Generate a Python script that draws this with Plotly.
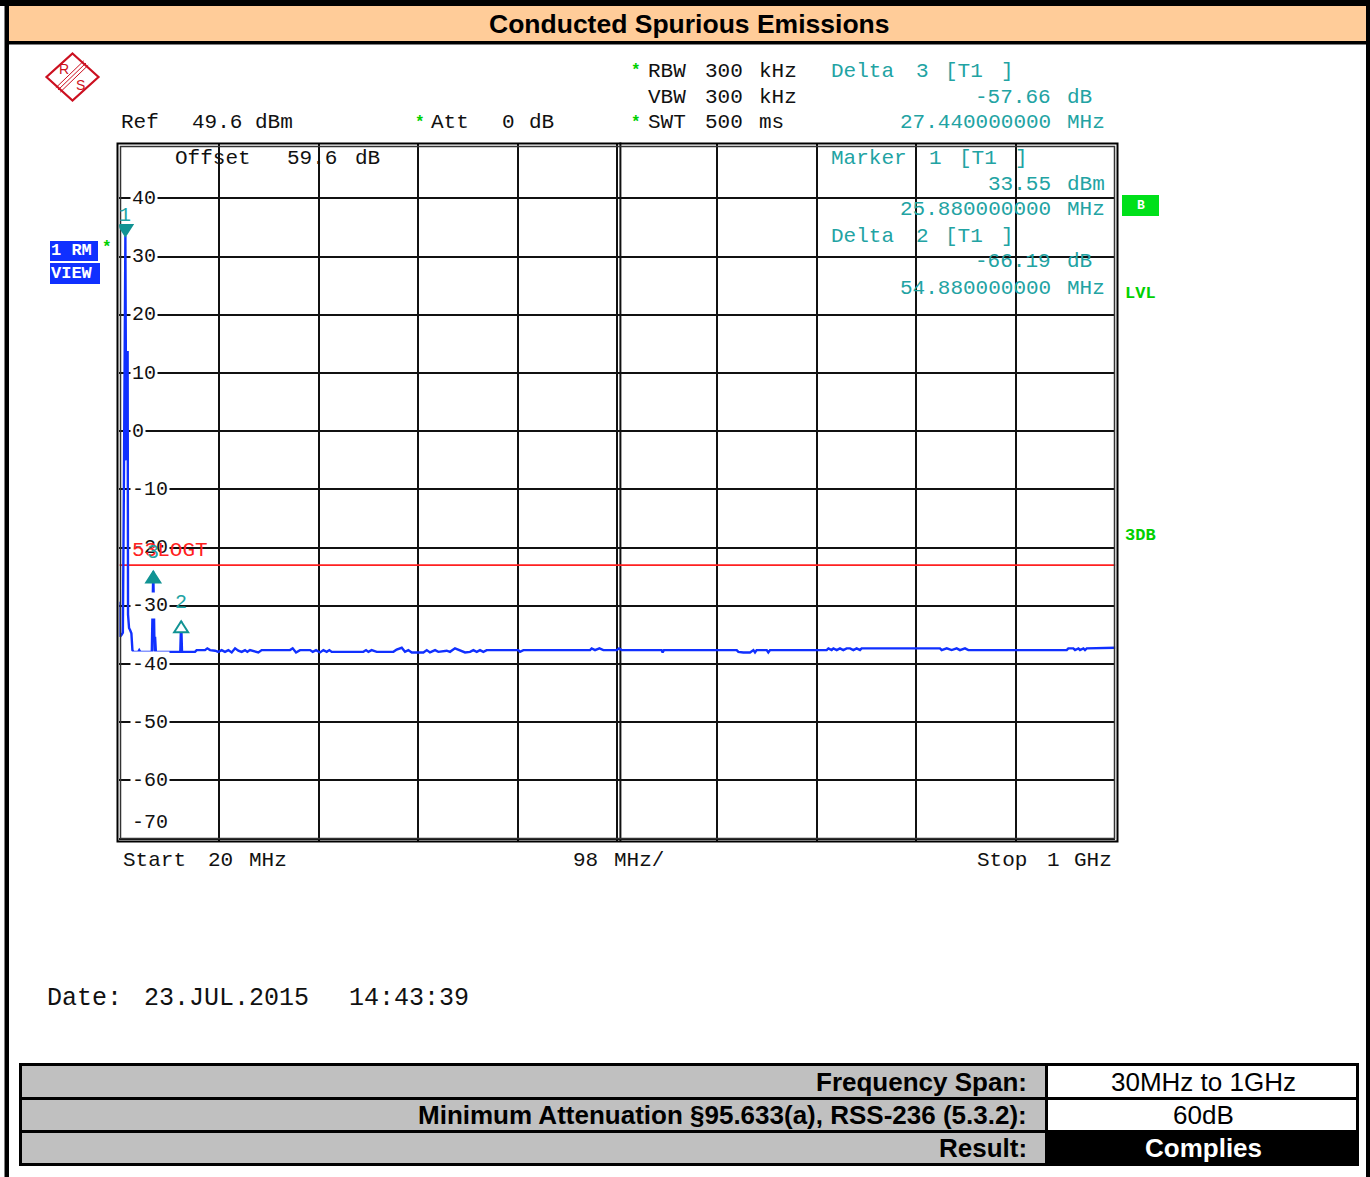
import plotly.graph_objects as go

W, H = 1370, 1177

# ---------------- data ----------------
X_START_MHZ = 20
X_STOP_MHZ = 1000
X_DIV_MHZ = 98
REF_LEVEL_DBM = 49.6
Y_SPAN_DB = 120
Y_TICKS = [40, 30, 20, 10, 0, -10, -20, -30, -40, -50, -60, -70]

FREQ_MHZ = [
    20.0, 20.6, 22.0, 23.4, 24.4, 25.0, 25.88, 26.4, 26.9, 27.3, 28.1, 28.5, 29.5, 30.6, 31.8,
    32.8, 33.8, 38.5, 39.5, 40.5, 51.9, 52.6, 53.32, 54.0, 54.6, 55.1, 55.9, 79.9, 80.76, 81.6,
    89.5, 94.4, 96.0, 104.2, 106.5, 109.2, 114.1, 117.4, 120.6, 123.9, 127.2, 130.5, 133.8,
    137.0, 140.3, 143.6, 145.9, 148.5, 156.7, 160.0, 187.9, 190.5, 193.8, 197.7, 207.6, 210.2,
    213.5, 217.4, 220.7, 224.0, 226.6, 228.9, 260.0, 262.7, 265.0, 268.2, 273.2, 289.6, 292.8,
    297.8, 301.0, 304.3, 307.6, 319.1, 322.4, 325.6, 330.6, 333.8, 342.0, 345.3, 350.2, 355.2,
    360.1, 365.0, 368.3, 371.6, 374.8, 378.1, 381.4, 384.7, 412.6, 414.2, 417.5, 483.1, 484.7,
    488.0, 492.3, 496.2, 509.3, 511.6, 514.2, 553.5, 554.5, 555.8, 627.4, 629.0, 633.9, 640.5,
    643.8, 645.4, 647.0, 656.9, 658.5, 660.2, 715.9, 717.6, 720.8, 722.5, 725.8, 729.0, 732.3,
    735.6, 738.9, 742.2, 745.4, 748.7, 750.3, 827.4, 829.1, 834.0, 838.9, 843.8, 847.1, 852.0,
    855.3, 952.1, 953.7, 958.6, 960.3, 963.6, 965.2, 968.5, 970.1, 971.8, 1000.0,
]
LEVEL_DBM = [
    -29.3, -35.3, -35.0, -34.6, -10.0, 20.0, 33.55, 10.0, -5.0, 13.6, 13.6, -31.5, -33.8, -34.2, -34.7,
    -37.6, -37.9, -37.9, -37.6, -37.9, -37.9, -31.0, -24.11, -31.0, -37.9, -35.3, -37.9, -37.9, -32.64, -37.9,
    -37.9, -37.9, -37.6, -37.6, -37.3, -37.6, -37.7, -37.9, -37.6, -37.9, -37.6, -38.0, -37.3,
    -37.7, -37.9, -37.6, -37.9, -37.6, -38.0, -37.6, -37.6, -37.3, -38.0, -37.6, -37.6, -37.9,
    -37.6, -38.0, -37.6, -37.9, -37.6, -37.9, -37.9, -37.6, -37.9, -37.6, -37.9, -37.9, -37.5,
    -37.2, -37.9, -37.6, -38.0, -38.0, -37.6, -38.0, -37.6, -37.9, -37.7, -37.9, -37.3, -37.7,
    -38.0, -37.9, -37.6, -37.9, -37.6, -37.9, -37.6, -37.6, -37.6, -37.9, -37.6, -37.6, -37.3,
    -37.6, -37.3, -37.6, -37.6, -37.3, -37.6, -37.6, -38.0, -37.6, -37.6, -37.9, -38.0, -38.0,
    -37.6, -38.0, -37.6, -37.6, -38.0, -37.6, -37.6, -37.3, -37.6, -37.3, -37.6, -37.3, -37.6,
    -37.3, -37.3, -37.6, -37.3, -37.6, -37.3, -37.3, -37.6, -37.3, -37.6, -37.3, -37.6, -37.3,
    -37.6, -37.6, -37.3, -37.3, -37.6, -37.3, -37.6, -37.3, -37.6, -37.3, -37.2,
]

MARKER_IDS = ["1", "3", "2"]
MARKER_FREQ_MHZ = [25.88, 53.32, 80.76]
MARKER_LEVEL_DBM = [33.55, -24.11, -32.64]
MARKER_KIND = ["down_filled", "up_filled", "up_open"]

LIMIT_LEVEL_DBM = -23.0
LIMIT_NAME = "53LOGT"

TABLE_LABELS = ["Frequency Span:", "Minimum Attenuation §95.633(a), RSS-236 (5.3.2):", "Result:"]
TABLE_VALUES = ["30MHz to 1GHz", "60dB", "Complies"]

# ---------------- styling helpers ----------------
MONO = "Liberation Mono, Courier New, monospace"
SANS = "Liberation Sans, Arial, sans-serif"
TEAL = "#22a3a3"
TEAL_DARK = "#119393"
GREEN = "#00d000"
BLUE = "#1030ff"
BLACK = "#111111"


def px(x):
    return x / W


def py(y):
    return 1 - y / H


shapes = []
annotations = []


def rect(x0, y0, x1, y1, fill=None, line_color=None, line_width=0, layer="above"):
    shapes.append(dict(
        type="rect", xref="paper", yref="paper",
        x0=px(x0), x1=px(x1), y0=py(y1), y1=py(y0),
        fillcolor=fill if fill else "rgba(0,0,0,0)",
        line=dict(color=line_color if line_color else "rgba(0,0,0,0)", width=line_width),
        layer=layer,
    ))


def text(t, x, y, size=22, color=BLACK, family=MONO, xanchor="left", bold=False, bg=None):
    annotations.append(dict(
        text=("<b>%s</b>" % t) if bold else t,
        xref="paper", yref="paper", x=px(x), y=py(y),
        xanchor=xanchor, yanchor="middle", showarrow=False,
        font=dict(family=family, size=size, color=color),
        bgcolor=bg, borderpad=0,
    ))


# ---------------- page frame & header ----------------
rect(0, 0, W, 6, fill="#000000", layer="below")
rect(4.5, 0, 9, H, fill="#000000", layer="below")
rect(1366, 0, W, H, fill="#000000", layer="below")
rect(9, 6, 1366, 41, fill="#ffcc99", layer="below")
rect(9, 41, 1366, 44.5, fill="#000000", layer="below")
text("Conducted Spurious Emissions", 689, 23.5, size=26.5, family=SANS, xanchor="center", bold=True, color="#000000")

# ---------------- R&S logo ----------------
shapes.append(dict(type="path", xref="paper", yref="paper",
                   path="M %f,%f L %f,%f L %f,%f L %f,%f Z" % (
                       px(72.5), py(53.5), px(98.5), py(77), px(72.5), py(100.5), px(46.5), py(77)),
                   line=dict(color="#cc1020", width=2.2), fillcolor="rgba(0,0,0,0)"))
for off in (-2.2, 0, 2.2):
    shapes.append(dict(type="line", xref="paper", yref="paper",
                       x0=px(58 + off), y0=py(90 + off), x1=px(86 + off), y1=py(63 + off),
                       line=dict(color="#cc1020", width=1)))
text("R", 64, 69, size=14, color="#cc1020", family=SANS, xanchor="center")
text("S", 80, 85, size=14, color="#cc1020", family=SANS, xanchor="center")

# ---------------- instrument header texts ----------------
hdr = [
    ("RBW", 647, 71, BLACK), ("300", 704, 71, BLACK), ("kHz", 758, 71, BLACK),
    ("VBW", 647, 97, BLACK), ("300", 704, 97, BLACK), ("kHz", 758, 97, BLACK),
    ("SWT", 647, 123, BLACK), ("500", 704, 123, BLACK), ("ms", 758, 123, BLACK),
    ("Ref", 120, 123, BLACK), ("49.6", 191, 123, BLACK), ("dBm", 254, 123, BLACK),
    ("Att", 430, 123, BLACK), ("0", 501, 123, BLACK), ("dB", 528, 123, BLACK),
    ("Delta", 830, 71, TEAL), ("3", 915, 71, TEAL), ("[T1", 944, 71, TEAL), ("]", 1000, 71, TEAL),
    ("dB", 1066, 97, TEAL), ("MHz", 1066, 123, TEAL),
    ("Offset", 174, 158, BLACK), ("59.6", 286, 158, BLACK), ("dB", 354, 158, BLACK),
    ("Marker", 830, 158, TEAL), ("1", 928, 158, TEAL), ("[T1", 958, 158, TEAL), ("]", 1014, 158, TEAL),
    ("dBm", 1066, 184, TEAL), ("MHz", 1066, 210, TEAL),
    ("Delta", 830, 236, TEAL), ("2", 915, 236, TEAL), ("[T1", 944, 236, TEAL), ("]", 1000, 236, TEAL),
    ("dB", 1066, 262, TEAL), ("MHz", 1066, 288, TEAL),
    ("Start", 122, 860, BLACK), ("20", 207, 860, BLACK), ("MHz", 248, 860, BLACK),
    ("98", 572, 860, BLACK), ("MHz/", 613, 860, BLACK),
    ("Stop", 976, 860, BLACK), ("1", 1046, 860, BLACK), ("GHz", 1073, 860, BLACK),
]
for t, x, y, c in hdr:
    text(t, x, y, size=21, color=c)
for t, y in [("-57.66", 97), ("27.440000000", 123), ("33.55", 184), ("25.880000000", 210),
             ("-66.19", 262), ("54.880000000", 288)]:
    text(t, 1052, y, size=21, color=TEAL, xanchor="right")
for x, y in [(636, 71), (420, 123), (636, 123), (107, 248)]:
    text("*", x, y, size=16, color=GREEN, bold=True, xanchor="center")

text("Date:", 46, 998, size=25)
text("23.JUL.2015", 143, 998, size=25)
text("14:43:39", 348, 998, size=25)

# trace-info boxes
rect(50, 241, 98, 261, fill=BLUE)
rect(50, 263, 100, 284, fill=BLUE)
text("1 RM", 50, 251, size=17, color="white", bold=True)
text("VIEW", 50, 273.5, size=17, color="white", bold=True)
rect(1122, 195, 1159, 216, fill="#00e01a")
text("B", 1140.5, 205.5, size=13, color="white", bold=True, xanchor="center")
text("LVL", 1140, 293, size=17, color=GREEN, bold=True, xanchor="center")
text("3DB", 1140, 535, size=17, color=GREEN, bold=True, xanchor="center")

# ---------------- plot frame ----------------
rect(117.5, 143.5, 1117.5, 841.5, line_color="#000000", line_width=2)
rect(120.5, 146.5, 1114.5, 838.5, line_color="#333333", line_width=1.5)
center_mhz = (X_START_MHZ + X_STOP_MHZ) / 2
shapes.append(dict(type="line", xref="x", yref="y domain", xsizemode="pixel", xanchor=center_mhz,
                   x0=3, x1=3, y0=0, y1=1, line=dict(color=BLACK, width=2), layer="below"))

# y tick labels drawn inside the grid
for v in Y_TICKS:
    last = v == Y_TICKS[-1]
    annotations.append(dict(
        text=str(v),
        xref="paper", yref="y", x=px(130), y=v, xanchor="left",
        yanchor="bottom" if last else "middle",
        yshift=3 if last else 0,
        showarrow=False, font=dict(family=MONO, size=20, color=BLACK),
        bgcolor=None if last else "white", borderpad=1,
    ))

# limit line label
annotations.append(dict(text=LIMIT_NAME, xref="paper", yref="y", x=px(130), y=LIMIT_LEVEL_DBM,
                        xanchor="left", yanchor="bottom", yshift=1, showarrow=False,
                        font=dict(family=MONO, size=21, color="#ff2020")))

# markers
for mid, f, lv, kind in zip(MARKER_IDS, MARKER_FREQ_MHZ, MARKER_LEVEL_DBM, MARKER_KIND):
    if kind == "down_filled":
        path = "M -7,11 L 7,11 L 0,0 Z"
    else:
        path = "M -7,-11 L 7,-11 L 0,0 Z"
    filled = kind != "up_open"
    shapes.append(dict(type="path", xref="x", yref="y", xsizemode="pixel", ysizemode="pixel",
                       xanchor=f, yanchor=lv, path=path,
                       fillcolor=TEAL_DARK if filled else "white",
                       line=dict(color=TEAL_DARK, width=2)))
    annotations.append(dict(text=mid, xref="x", yref="y", x=f, y=lv, yshift=21 if kind == "down_filled" else 19,
                            xanchor="center", yanchor="middle", showarrow=False,
                            font=dict(family=MONO, size=20, color=TEAL)))

# ---------------- result table ----------------
rect(19, 1063, 1359, 1166, fill="#000000")
row_tops = [1066, 1100, 1133]
row_bots = [1097, 1130, 1163]
for i, (lab, val) in enumerate(zip(TABLE_LABELS, TABLE_VALUES)):
    rect(22, row_tops[i], 1045, row_bots[i], fill="#c0c0c0")
    last = i == len(TABLE_LABELS) - 1
    if not last:
        rect(1048, row_tops[i], 1356, row_bots[i], fill="white")
    yc = (row_tops[i] + row_bots[i]) / 2
    text(lab, 1028, yc, size=26, family=SANS, xanchor="right", bold=True, color="#000000")
    text(val, 1203, yc, size=26, family=SANS, xanchor="center", bold=last,
         color="white" if last else "#000000")

# ---------------- figure ----------------
fig = go.Figure()
fig.add_trace(go.Scatter(x=[X_START_MHZ, X_STOP_MHZ], y=[LIMIT_LEVEL_DBM, LIMIT_LEVEL_DBM], mode="lines",
                         line=dict(color="#ff2020", width=1.6), hoverinfo="skip"))
fig.add_trace(go.Scatter(x=FREQ_MHZ, y=LEVEL_DBM, mode="lines",
                         line=dict(color=BLUE, width=2.4), hoverinfo="skip"))

fig.update_layout(
    width=W, height=H, margin=dict(l=0, r=0, t=0, b=0),
    paper_bgcolor="white", plot_bgcolor="white", showlegend=False,
    xaxis=dict(domain=[px(119.4), px(1115.4)], range=[X_START_MHZ, X_STOP_MHZ],
               tick0=X_START_MHZ, dtick=X_DIV_MHZ, showgrid=True, gridcolor=BLACK, gridwidth=2,
               showticklabels=False, ticks="", zeroline=False, showline=False, fixedrange=True),
    yaxis=dict(domain=[py(841), py(142.6)], range=[REF_LEVEL_DBM - Y_SPAN_DB, REF_LEVEL_DBM],
               tick0=0, dtick=10, showgrid=True, gridcolor=BLACK, gridwidth=2,
               showticklabels=False, ticks="", zeroline=False, showline=False, fixedrange=True),
    shapes=shapes, annotations=annotations,
)

fig.write_html("out.html", config={"displayModeBar": False},
               post_script="document.body.style.margin='0';")
